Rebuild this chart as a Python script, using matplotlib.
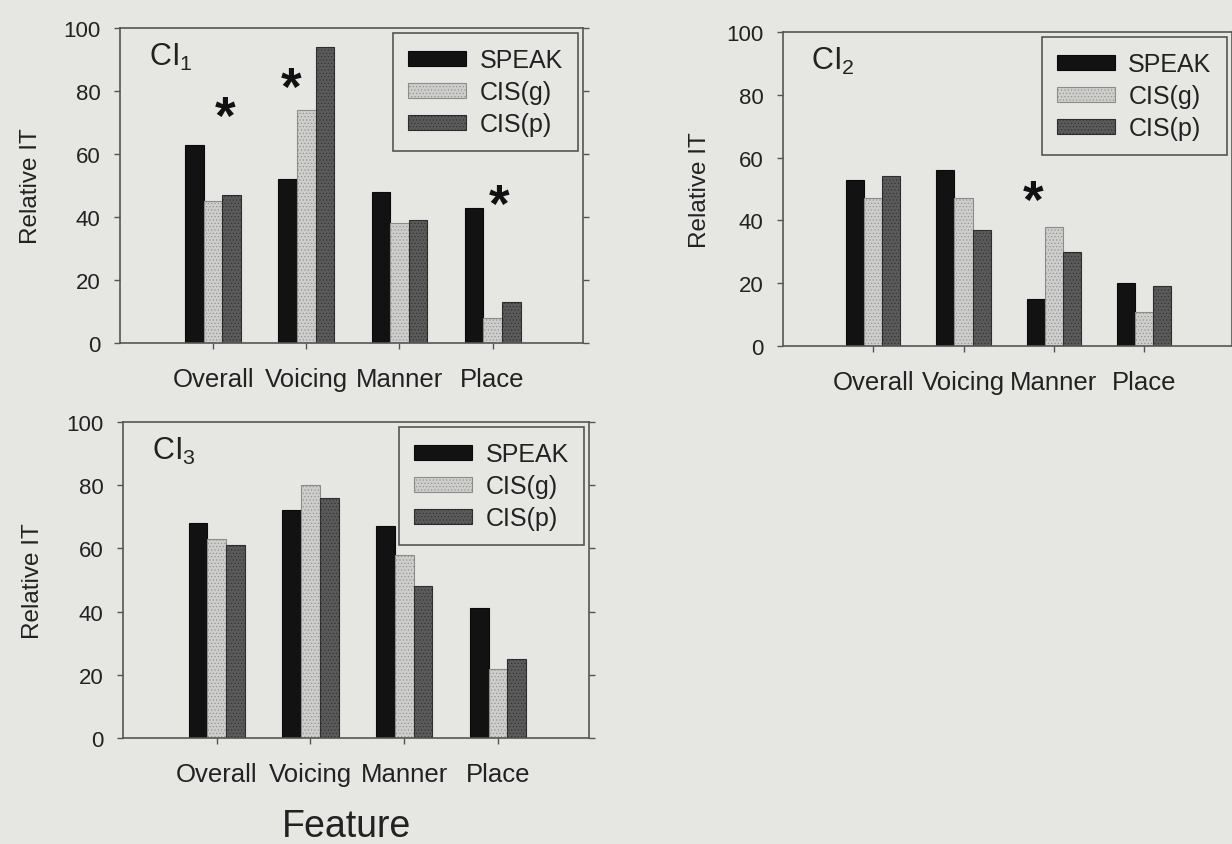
import numpy as np
import matplotlib
matplotlib.use('Agg')
import matplotlib.pyplot as plt

plt.rcParams['font.family'] = ['Liberation Sans', 'DejaVu Sans']
plt.rcParams['mathtext.fontset'] = 'custom'
plt.rcParams['mathtext.rm'] = 'Liberation Sans'
plt.rcParams['mathtext.it'] = 'Liberation Sans'
plt.rcParams['hatch.linewidth'] = 0.4

# relative information transmission (%) per feature
categories = ['Overall', 'Voicing', 'Manner', 'Place']
strategies = ['SPEAK', 'CIS(g)', 'CIS(p)']

ci1_speak = [63, 52, 48, 43]
ci1_cisg = [45, 74, 38, 8]
ci1_cisp = [47, 94, 39, 13]

ci2_speak = [53, 56, 15, 20]
ci2_cisg = [47, 47, 38, 11]
ci2_cisp = [54, 37, 30, 19]

ci3_speak = [68, 72, 67, 41]
ci3_cisg = [63, 80, 58, 22]
ci3_cisp = [61, 76, 48, 25]

# significant differences: (feature, height of the asterisk)
ci1_sig = [('Overall', 75), ('Voicing', 84), ('Place', 47)]
ci2_sig = [('Manner', 49.5)]
ci3_sig = []

bg = '#e6e6e3'
ink = '#222222'
fills = ['#121212', '#cdcdcb', '#5a5a5a']
edges = ['#0a0a0a', '#8c8c8a', '#2e2e2e']
hatches = [None, '.....', '.....']

fig = plt.figure(figsize=(12.32, 8.45), dpi=100, facecolor=bg)

def panel(rect, vals, sub, sig, star_dx, ylab_x):
    ax = fig.add_axes(rect, facecolor=bg)
    x = np.arange(1, len(categories) + 1)
    w = 0.2
    for i, v in enumerate(vals):
        ax.bar(x + (i - 1) * w, v, w, color=fills[i], edgecolor=edges[i],
               hatch=hatches[i], linewidth=0.8, label=strategies[i])
    ax.set_xlim(0, 4.97)
    ax.set_ylim(0, 100)
    ax.set_yticks([0, 20, 40, 60, 80, 100])
    ax.set_xticks(x)
    ax.set_xticklabels(categories, fontsize=18.5, color=ink)
    ax.tick_params(axis='x', direction='out', length=4, width=1, pad=13,
                   colors='#555555', labelcolor=ink)
    ax.tick_params(axis='y', direction='out', length=4, width=1, pad=10,
                   right=True, labelsize=16, colors='#555555', labelcolor=ink)
    for s in ax.spines.values():
        s.set_color('#555555')
        s.set_linewidth(1.2)
    ax.set_ylabel('Relative IT', fontsize=17.5, color=ink)
    ax.yaxis.set_label_coords(ylab_x, 0.5)
    ax.text(0.063, 0.96, 'CI$_{' + sub + '}$', transform=ax.transAxes,
            fontsize=22, color=ink, va='top', ha='left')
    leg = ax.legend(loc='upper right', bbox_to_anchor=(1.0, 1.0),
                    borderaxespad=0.2, fontsize=18, fancybox=False,
                    handlelength=2.3, handleheight=0.55, handletextpad=0.55,
                    labelspacing=0.32, borderpad=0.6, framealpha=1)
    leg.get_frame().set_facecolor(bg)
    leg.get_frame().set_edgecolor('#555555')
    leg.get_frame().set_linewidth(1.2)
    for t in leg.get_texts():
        t.set_color(ink)
    for (feat, h), dx in zip(sig, star_dx):
        xs = categories.index(feat) + 1 + dx
        ax.annotate('*', (xs, h), xytext=(0, -0.49 * 38), textcoords='offset points',
                    ha='center', va='baseline', fontsize=38, fontweight='bold',
                    color='#111111')
    return ax

panel([0.0974, 0.5929, 0.3758, 0.3728],
      [ci1_speak, ci1_cisg, ci1_cisp], '1', ci1_sig, [0.13, -0.16, 0.07], -0.168)
panel([0.6356, 0.5893, 0.3640, 0.3716],
      [ci2_speak, ci2_cisg, ci2_cisp], '2', ci2_sig, [-0.23], -0.16)
panel([0.0998, 0.1254, 0.3782, 0.374],
      [ci3_speak, ci3_cisg, ci3_cisp], '3', ci3_sig, [], -0.17)

fig.text(0.281, 0.0, 'Feature', fontsize=27, color=ink, ha='center', va='bottom')

fig.savefig('out.png', dpi=100, facecolor=bg)
